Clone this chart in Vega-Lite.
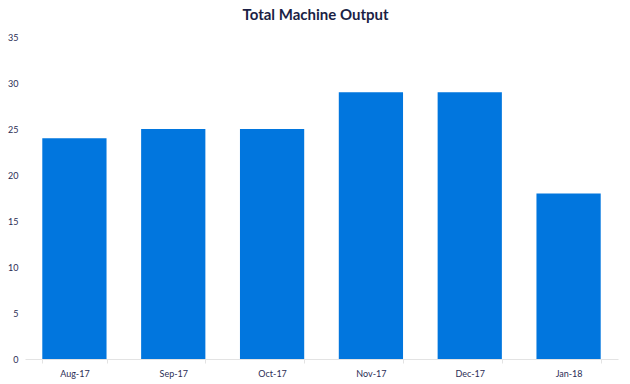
{
  "$schema": "https://vega.github.io/schema/vega-lite/v6.json",
  "width": 593,
  "height": 322,
  "autosize": "none",
  "padding": {"left": 25, "top": 37, "right": 12, "bottom": 25},
  "background": "#ffffff",
  "title": {
    "text": "Total Machine Output",
    "font": "Lato",
    "fontSize": 15,
    "fontWeight": "bold",
    "color": "#1b1f45",
    "anchor": "middle",
    "offset": 10,
    "dx": -6
  },
  "data": {
    "values": [
      {"month": "Aug-17", "output": 24},
      {"month": "Sep-17", "output": 25},
      {"month": "Oct-17", "output": 25},
      {"month": "Nov-17", "output": 29},
      {"month": "Dec-17", "output": 29},
      {"month": "Jan-18", "output": 18}
    ]
  },
  "mark": {"type": "bar", "color": "#0176DE"},
  "encoding": {
    "x": {
      "field": "month",
      "type": "nominal",
      "sort": null,
      "scale": {"paddingInner": 0.35, "paddingOuter": 0.175},
      "axis": {
        "title": null,
        "labelAngle": 0,
        "labelFont": "Lato",
        "labelFontSize": 9,
        "labelColor": "#2b2d55",
        "labelPadding": 6,
        "domainColor": "#e3e3e3",
        "tickColor": "#e3e3e3",
        "tickSize": 4,
        "tickBand": "extent",
        "grid": false
      }
    },
    "y": {
      "field": "output",
      "type": "quantitative",
      "scale": {"domain": [0, 35]},
      "axis": {
        "title": null,
        "values": [0, 5, 10, 15, 20, 25, 30, 35],
        "grid": false,
        "domain": false,
        "ticks": false,
        "labelFont": "Lato",
        "labelFontSize": 9,
        "labelColor": "#2b2d55",
        "labelPadding": 7
      }
    }
  },
  "config": {"view": {"stroke": null}}
}
